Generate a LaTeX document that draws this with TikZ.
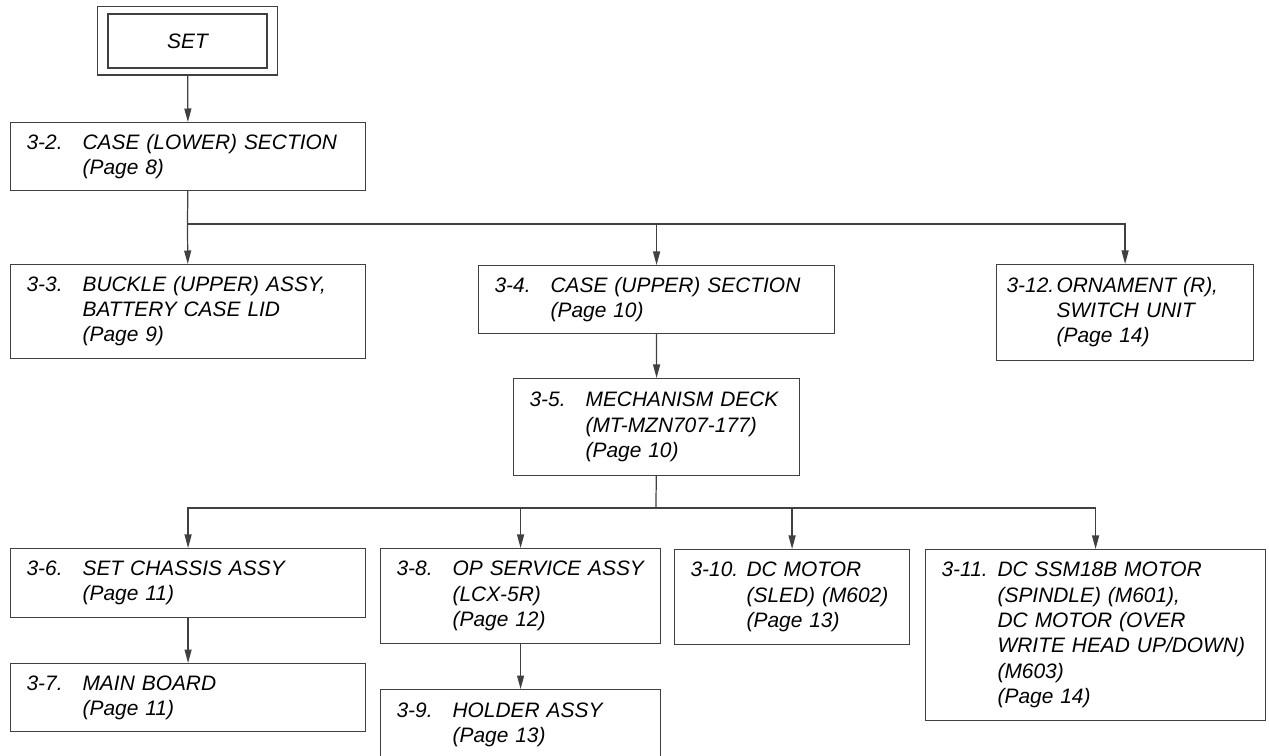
\documentclass[tikz,border=0pt]{standalone}
\usepackage{fontspec}
\setmainfont{Liberation Sans}
\usepackage{tikz}
\usetikzlibrary{arrows.meta, positioning, fit, calc}
\tikzstyle{part} = [rectangle, draw=black!75, line width=0.7pt, anchor=north west, inner xsep=0.32cm, inner ysep=0pt, align=left, font=\itshape\fontsize{11.9}{14.4}\selectfont]
\tikzstyle{link} = [draw=black!75, line width=0.7pt]
\newcommand{\entry}[3][1.12cm]{\makebox[#1][l]{#2}\begin{tabular}[t]{@{}l@{}}#3\end{tabular}}

\begin{document}
\begin{tikzpicture}[x=0.02cm, y=-0.02cm, >={Triangle[length=2.7mm, width=1.4mm]}]
        \useasboundingbox (0,0) rectangle (1269,756);
        \node[part, anchor=center, inner xsep=0pt, minimum width=3.18cm, minimum height=1.08cm] (set) at (187.5,41) {SET};
        \node[draw=black!75, line width=0.7pt, fit=(set), inner xsep=0.2cm, inner ysep=0.13cm] (setframe) {};
        \node[part, text width=6.46cm, minimum height=1.36cm] (b32) at (10,122) {\entry{3-2.}{CASE (LOWER) SECTION\\(Page 8)}};
        \node[part, text width=6.46cm, minimum height=1.88cm] (b33) at (10,264) {\entry{3-3.}{BUCKLE (UPPER) ASSY,\\BATTERY CASE LID\\(Page 9)}};
        \node[part, text width=6.48cm, minimum height=1.36cm] (b34) at (478,265) {\entry{3-4.}{CASE (UPPER) SECTION\\(Page 10)}};
        \node[part, inner xsep=0.2cm, text width=4.74cm, minimum height=1.92cm] (b312) at (996,264) {\entry[1.0cm]{3-12.}{ORNAMENT (R),\\SWITCH UNIT\\(Page 14)}};
        \node[part, text width=5.08cm, minimum height=1.94cm] (b35) at (513,378) {\entry{3-5.}{MECHANISM DECK\\(MT-MZN707-177)\\(Page 10)}};
        \node[part, text width=6.46cm, minimum height=1.38cm] (b36) at (10,548) {\entry{3-6.}{SET CHASSIS ASSY\\(Page 11)}};
        \node[part, text width=6.46cm, minimum height=1.36cm] (b37) at (10,663) {\entry{3-7.}{MAIN BOARD\\(Page 11)}};
        \node[part, text width=4.96cm, minimum height=1.9cm] (b38) at (380,548) {\entry{3-8.}{OP SERVICE ASSY\\(LCX-5R)\\(Page 12)}};
        \node[part, text width=4.96cm, minimum height=1.42cm] (b39) at (380,689) {\entry{3-9.}{HOLDER ASSY\\(Page 13)}};
        \node[part, text width=4.06cm, minimum height=1.9cm] (b310) at (674,549) {\entry{3-10.}{DC MOTOR\\(SLED) (M602)\\(Page 13)}};
        \node[part, text width=6.16cm, minimum height=3.42cm] (b311) at (925,549) {\entry{3-11.}{DC SSM18B MOTOR\\(SPINDLE) (M601),\\DC MOTOR (OVER\\WRITE HEAD UP/DOWN)\\(M603)\\(Page 14)}};

        \coordinate (bus1) at (187.5,224);
        \coordinate (bus2) at (656,508);

        \draw[link, ->] (setframe) -- (b32);
        \draw[link] (b32) -- (bus1);
        \draw[link, ->] (bus1) -- (b33);
        \draw[link, ->] (bus1) -| (b34);
        \draw[link, ->] (bus1) -| (b312);
        \draw[link, ->] (b34) -- (b35);
        \draw[link] (b35) -- (bus2);
        \draw[link, ->] (bus2) -| (b36);
        \draw[link, ->] (bus2) -| (b38);
        \draw[link, ->] (bus2) -| (b310);
        \draw[link, ->] (bus2) -| (b311);
        \draw[link, ->] (b36) -- (b37);
        \draw[link, ->] (b38) -- (b39);
    \end{tikzpicture}
\end{document}
